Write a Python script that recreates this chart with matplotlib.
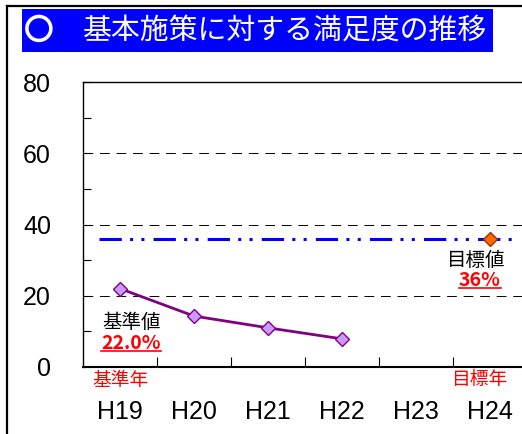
import numpy as np
import matplotlib
matplotlib.use("Agg")
import matplotlib.pyplot as plt
import matplotlib.patheffects as pe
from matplotlib.lines import Line2D
from matplotlib.patches import Rectangle

plt.rcParams["font.family"] = ["Liberation Sans", "Noto Sans CJK JP", "DejaVu Sans"]
JP = ["Noto Sans CJK JP", "DejaVu Sans"]

# Data
years = ["H19", "H20", "H21", "H22", "H23", "H24"]
satisfaction = [22.0, 14.3, 11.0, 7.9]
target_value = 36.0
target_year = "H24"
base_label = "22.0%"
target_label = "36%"

fig = plt.figure(figsize=(5.22, 4.34), dpi=100)
W, H = 522, 434

# outer frame (top and left edges)
fig.add_artist(Line2D([7 / W, 7 / W], [0, 1 - 6 / H], color="black", lw=1.6))
fig.add_artist(Line2D([7 / W, 1], [1 - 6 / H, 1 - 6 / H], color="black", lw=1.6))

# title bar
fig.add_artist(Rectangle((22 / W, 1 - 52 / H), 471 / W, 43 / H,
                         transform=fig.transFigure, facecolor="#0000FF",
                         edgecolor="none"))
fig.text(25 / W, 1 - 31 / H, "○", color="white", fontsize=20,
         family=JP, va="center", ha="left",
         path_effects=[pe.withStroke(linewidth=1.8, foreground="white")])
fig.text(83 / W, 1 - 31 / H, "基本施策に対する満足度の推移", color="white",
         fontsize=20.8, family=JP, va="center", ha="left")

ax = fig.add_axes([83 / W, 67 / H, 444 / W, 285 / H])
x = np.arange(len(years))

# target line
ax.axhline(target_value, xmin=0.036, xmax=0.966, color="#0000FF", lw=2.2,
           dashes=(7.3, 2.7, 1, 2.7, 1, 3))

ax.plot(x[:len(satisfaction)], satisfaction, color="#800080", lw=2,
        marker="D", markersize=7.5, markerfacecolor="#CC99FF",
        markeredgecolor="#800080", markeredgewidth=1, zorder=4)
ax.plot([years.index(target_year)], [target_value], marker="D",
        markersize=7.5, markerfacecolor="#FF6600", markeredgecolor="#993300",
        markeredgewidth=1, zorder=5, linestyle="none")

ax.set_xlim(-0.5, len(years) - 0.5)
ax.set_ylim(0, 80)
ax.set_yticks([0, 20, 40, 60, 80])
ax.set_yticks([10, 30, 50, 70], minor=True)
ax.set_xticks(x)
ax.set_xticklabels(years)
ax.set_xticks(x[:-1] + 0.5, minor=True)

ax.tick_params(axis="y", which="both", direction="in", length=5.5,
               width=0.8, labelsize=18, pad=23)
ax.tick_params(axis="x", which="major", length=0, labelsize=18, pad=24)
ax.tick_params(axis="x", which="minor", direction="in", length=7.5, width=0.8)

for y in [20, 40, 60]:
    ax.axhline(y, color="black", lw=0.7, dashes=(10, 7), zorder=1)

ax.spines["right"].set_visible(False)
ax.spines["left"].set_linewidth(1.0)
ax.spines["top"].set_linewidth(1.0)
ax.spines["bottom"].set_linewidth(1.5)

# annotations
ax.text(0.15, 12.6, "基準値", family=JP, fontsize=14, ha="center", va="center")
t1 = ax.text(0.15, 6.7, base_label, family=JP, fontsize=14, color="red",
             fontweight="bold", ha="center", va="center")
ax.text(4.81, 30.0, "目標値", family=JP, fontsize=14, ha="center", va="center")
t2 = ax.text(4.86, 24.4, target_label, family=JP, fontsize=14, color="red",
             fontweight="bold", ha="center", va="center")
ax.text(0.0, -3.9, "基準年", family=JP, fontsize=13.5, color="red",
        ha="center", va="center", clip_on=False)
ax.text(4.85, -3.6, "目標年", family=JP, fontsize=13.5, color="red",
        ha="center", va="center", clip_on=False)

# underline the red values
fig.canvas.draw()
renderer = fig.canvas.get_renderer()
for t in (t1, t2):
    bb = t.get_window_extent(renderer)
    y0 = bb.y0 + 2
    fig.add_artist(Line2D([bb.x0 / W, bb.x1 / W], [y0 / H, y0 / H],
                          color="red", lw=1.2))

fig.savefig("out.png", dpi=100)
